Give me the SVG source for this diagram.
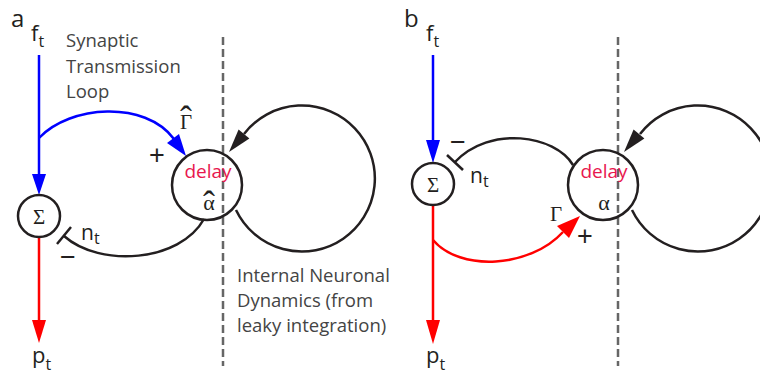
<svg xmlns="http://www.w3.org/2000/svg" width="760" height="375" viewBox="0 0 760 375">
<style>
.lbl{font-family:"Open Sans","Liberation Sans",sans-serif;fill:#231f20}
.sym{font-family:"Liberation Sans",sans-serif;font-size:27px;fill:#231f20}
.note{font-family:"Open Sans","Liberation Sans",sans-serif;font-size:18.5px;fill:#444}
.math{font-family:"Liberation Serif","DejaVu Serif",serif;fill:#231f20}
.delay{font-family:"Open Sans","Liberation Sans",sans-serif;font-size:19px;fill:#e8174e}
.node{fill:none;stroke:#231f20;stroke-width:2.5}
.blk{fill:none;stroke:#231f20;stroke-width:2.5}
.blue{fill:none;stroke:#0000ff;stroke-width:2.5}
.red{fill:none;stroke:#ff0000;stroke-width:2.5}
.dash{stroke:#666;stroke-width:2.5;stroke-dasharray:8 4}
</style>
<g id="panel-labels">
<text class="lbl" x="11" y="27" font-size="24">a</text>
<text class="lbl" x="404" y="27" font-size="24">b</text>
</g>
<g id="dividers">
<line class="dash" x1="223" y1="37" x2="223" y2="366"/>
<line class="dash" x1="618" y1="37" x2="618" y2="366"/>
</g>
<g id="connectors">
<line class="blue" x1="39" y1="55" x2="39" y2="176"/>
<polygon points="32,174 46,174 39,195" fill="#0000ff"/>
<path class="blue" d="M39,138 C70,105 145,100 174,139"/>
<polygon points="186,156 179,134 167,143" fill="#0000ff"/>
<line class="red" x1="39" y1="237" x2="39" y2="322"/>
<polygon points="32,320 46,320 39,343" fill="#ff0000"/>
<path class="blk" d="M204,219 C180,262 100,268 64,236"/>
<line class="blk" x1="71" y1="227" x2="57" y2="244"/>
<path class="blk" d="M236,210 A73,73 0 1 0 244,134"/>
<polygon points="229,152 249.4,138.5 238.6,129.5" fill="#231f20"/>
<line class="blue" x1="433" y1="55" x2="433" y2="142"/>
<polygon points="426,140 440,140 433,163" fill="#0000ff"/>
<line class="red" x1="433" y1="205" x2="433" y2="322"/>
<polygon points="426,320 440,320 433,344" fill="#ff0000"/>
<path class="red" d="M433,240 C460,272 530,268 563,232"/>
<polygon points="580,216 569,238 557,226" fill="#ff0000"/>
<path class="blk" d="M573,165 C555,135 490,125 455,162"/>
<line class="blk" x1="463" y1="170" x2="447" y2="155"/>
<path class="blk" d="M632,210 A73,73 0 1 0 640,134"/>
<polygon points="624,152 644.4,138.5 633.6,129.5" fill="#231f20"/>
</g>
<g id="sum-a">
<circle class="node" cx="39" cy="216" r="21"/>
<text class="math" x="39" y="224" font-size="21" text-anchor="middle">Σ</text>
</g>
<g id="delay-a">
<circle class="node" cx="207" cy="185" r="35"/>
<text class="delay" x="208" y="178" text-anchor="middle">delay</text>
<text class="math" x="209" y="210" font-size="22" text-anchor="middle">α<tspan x="209" y="216" font-size="36">ˆ</tspan></text>
</g>
<g id="sum-b">
<circle class="node" cx="433" cy="184" r="21"/>
<text class="math" x="433" y="192" font-size="21" text-anchor="middle">Σ</text>
</g>
<g id="delay-b">
<circle class="node" cx="603" cy="185" r="35"/>
<text class="delay" x="604" y="178" text-anchor="middle">delay</text>
<text class="math" x="604" y="210" font-size="22" text-anchor="middle">α</text>
</g>
<g id="labels-a">
<text class="lbl" x="31" y="41" font-size="22">f<tspan font-size="16" dy="6">t</tspan></text>
<text class="lbl" x="32" y="363" font-size="22">p<tspan font-size="16" dy="7">t</tspan></text>
<text class="lbl" x="81" y="240" font-size="21">n<tspan font-size="16" dy="4">t</tspan></text>
<text class="sym" x="157" y="164" text-anchor="middle">+</text>
<text class="sym" x="68" y="266" text-anchor="middle">−</text>
<text class="math" x="186" y="129" font-size="21" text-anchor="middle">Γ<tspan x="186" y="131" font-size="36">ˆ</tspan></text>
<text class="note" x="66" y="47">Synaptic</text>
<text class="note" x="66" y="73">Transmission</text>
<text class="note" x="66" y="98">Loop</text>
<text class="note" x="237" y="282">Internal Neuronal</text>
<text class="note" x="237" y="307">Dynamics (from</text>
<text class="note" x="237" y="332">leaky integration)</text>
</g>
<g id="labels-b">
<text class="lbl" x="426" y="41" font-size="22">f<tspan font-size="16" dy="6">t</tspan></text>
<text class="lbl" x="426" y="363" font-size="22">p<tspan font-size="16" dy="7">t</tspan></text>
<text class="lbl" x="470" y="183" font-size="21">n<tspan font-size="16" dy="4">t</tspan></text>
<text class="sym" x="585" y="245" text-anchor="middle">+</text>
<text class="sym" x="458" y="151" text-anchor="middle">−</text>
<text class="math" x="556" y="221" font-size="21" text-anchor="middle">Γ</text>
</g>
</svg>
